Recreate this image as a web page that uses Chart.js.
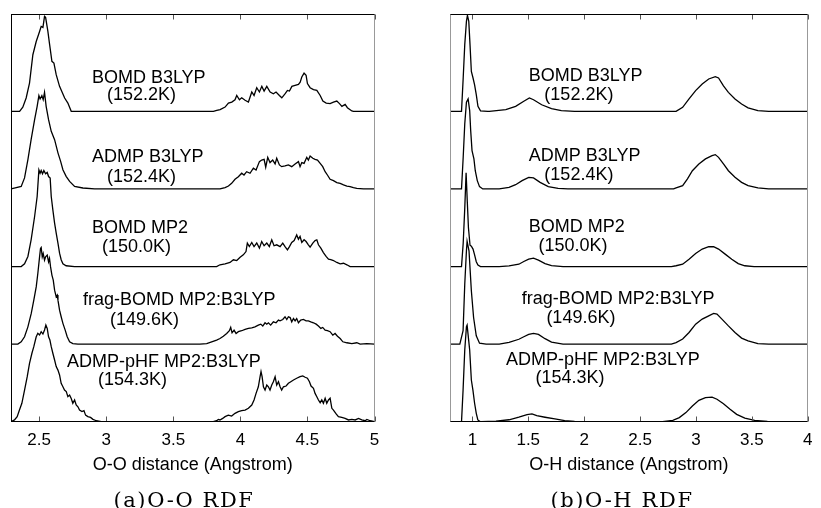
<!DOCTYPE html>
<html>
<head>
<meta charset="utf-8">
<script src="https://cdn.jsdelivr.net/npm/chart.js@4.4.0/dist/chart.umd.min.js"></script>
<style>
  body { margin: 0; background: #fff; }
  #wrap { position: relative; width: 821px; height: 508px; }
  canvas { position: absolute; top: 0; }
  #ooChart { left: 0; }
  #ohChart { left: 410px; }
  .caption { position: absolute; top: 488px; font-family: 'DejaVu Serif', serif; font-size: 21px; letter-spacing: 1.6px;
             line-height: 24px; white-space: nowrap; transform: translateX(-50%); color: #000; }
</style>
</head>
<body>
<div id="wrap">
  <canvas id="ooChart" width="410" height="508"></canvas>
  <canvas id="ohChart" width="411" height="508"></canvas>
  <div class="caption" style="left:184px">(a)O-O RDF</div>
  <div class="caption" style="left:622px">(b)O-H RDF</div>
</div>
<script>
// runs, top to bottom, and the vertical shift each curve gets
const runNames = ['BOMD B3LYP', 'ADMP B3LYP', 'BOMD MP2', 'frag-BOMD MP2:B3LYP', 'ADMP-pHF MP2:B3LYP'];
const runTemps = ['(152.2K)', '(152.4K)', '(150.0K)', '(149.6K)', '(154.3K)'];
const offsets = [16, 12, 8, 4, 0];

const ooTicks = [2.5, 3, 3.5, 4, 4.5, 5];
const ohTicks = [1, 1.5, 2, 2.5, 3, 3.5, 4];

// O-O g(r), [r, g]
const ooBomdB3lyp = [[2.29,0],[2.354,0],[2.378,0.22],[2.403,0.69],[2.428,1.46],[2.453,2.92],[2.478,3.6],[2.503,4.12],[2.515,4.38],[2.528,4.33],[2.54,4.9],[2.548,4.85],[2.565,4.12],[2.578,3.44],[2.595,2.58],[2.61,2.49],[2.627,1.89],[2.652,1.29],[2.69,0.69],[2.714,0.43],[2.739,0],
  [3.799,0],[3.824,0.05],[3.849,0.09],[3.886,0.22],[3.911,0.43],[3.936,0.48],[3.96,0.6],[3.973,0.82],[3.993,0.6],[4.01,0.7],[4.035,0.57],[4.06,0.48],[4.085,1.0],[4.102,0.82],[4.122,1.22],[4.142,1.0],[4.16,1.29],[4.177,1.05],[4.197,1.29],[4.222,1.0],[4.246,0.91],[4.266,1.0],[4.291,0.82],[4.309,0.7],[4.334,0.91],[4.351,1.08],[4.366,1.05],[4.384,1.29],[4.408,1.34],[4.433,1.39],[4.446,1.51],[4.458,1.77],[4.475,1.97],[4.49,1.86],[4.5,1.43],[4.52,1.22],[4.545,1.12],[4.57,1.08],[4.595,0.82],[4.615,0.53],[4.64,0.43],[4.669,0.4],[4.694,0.48],[4.719,0.53],[4.739,0.4],[4.757,0.26],[4.781,0.36],[4.798,0.19],[4.831,0.02],[4.843,0],[5.0,0]];
const ooAdmpB3lyp = [[2.29,0],[2.366,0.13],[2.391,0.57],[2.416,1.51],[2.44,2.54],[2.466,3.57],[2.485,4.26],[2.498,4.81],[2.507,4.64],[2.52,4.81],[2.53,4.6],[2.54,4.98],[2.552,4.26],[2.57,3.57],[2.59,2.97],[2.615,2.54],[2.64,1.86],[2.66,1.42],[2.677,0.99],[2.701,0.65],[2.727,0.39],[2.764,0.13],[2.826,0.05],[2.913,0],
  [3.848,0],[3.886,0.07],[3.911,0.15],[3.935,0.29],[3.96,0.5],[3.985,0.63],[4.01,0.81],[4.027,0.72],[4.047,0.89],[4.072,0.81],[4.097,1.07],[4.117,0.98],[4.142,1.41],[4.159,1.49],[4.177,1.53],[4.189,1.12],[4.204,1.63],[4.221,1.36],[4.241,1.49],[4.259,1.29],[4.271,1.58],[4.291,1.24],[4.308,1.15],[4.333,1.19],[4.358,1.24],[4.383,1.15],[4.408,1.29],[4.433,1.41],[4.445,1.15],[4.458,1.36],[4.475,1.32],[4.495,1.63],[4.507,1.49],[4.52,1.7],[4.54,1.58],[4.557,1.53],[4.575,1.49],[4.595,1.32],[4.614,1.15],[4.632,0.89],[4.649,0.72],[4.669,0.5],[4.694,0.43],[4.719,0.33],[4.744,0.29],[4.769,0.21],[4.794,0.15],[4.818,0.12],[4.843,0.07],[4.868,0.03],[4.918,0],[5.0,0]];
const ooBomdMp2 = [[2.29,0],[2.366,0],[2.391,0.14],[2.416,0.52],[2.44,1.38],[2.466,2.58],[2.485,3.61],[2.498,4.98],[2.507,4.81],[2.515,4.95],[2.525,4.78],[2.535,4.95],[2.548,4.78],[2.56,4.85],[2.57,4.64],[2.582,4.56],[2.59,3.61],[2.602,2.92],[2.615,2.24],[2.627,1.72],[2.64,1.21],[2.652,0.69],[2.664,0.35],[2.677,0.14],[2.701,0.04],[2.764,0],
  [3.823,0],[3.848,0.09],[3.886,0.14],[3.923,0.21],[3.948,0.35],[3.973,0.31],[3.998,0.48],[4.022,0.6],[4.042,0.77],[4.052,1.21],[4.067,1.03],[4.085,1.24],[4.102,1.03],[4.122,1.21],[4.142,0.95],[4.159,1.29],[4.177,1.07],[4.197,1.21],[4.216,1.03],[4.234,1.38],[4.251,1.07],[4.271,1.12],[4.296,1.03],[4.316,1.21],[4.333,1.03],[4.351,0.86],[4.366,1.03],[4.383,1.24],[4.401,1.34],[4.42,1.63],[4.433,1.41],[4.445,1.55],[4.458,1.24],[4.475,1.38],[4.49,1.29],[4.507,1.12],[4.52,1.0],[4.54,1.21],[4.557,1.34],[4.57,1.38],[4.582,1.12],[4.6,0.95],[4.619,0.72],[4.639,0.52],[4.657,0.38],[4.674,0.35],[4.694,0.31],[4.719,0.21],[4.744,0.14],[4.769,0.17],[4.794,0.09],[4.818,0],[5.0,0]];
const ooFragBomd = [[2.29,0],[2.341,0],[2.366,0.12],[2.391,0.38],[2.416,0.89],[2.441,1.58],[2.46,2.27],[2.478,2.95],[2.49,3.64],[2.503,4.5],[2.51,4.93],[2.515,4.98],[2.523,4.5],[2.53,4.67],[2.54,4.33],[2.548,4.5],[2.56,4.59],[2.57,4.24],[2.577,4.42],[2.585,3.98],[2.595,3.56],[2.605,3.3],[2.615,2.78],[2.627,2.44],[2.635,2.53],[2.64,2.27],[2.652,1.75],[2.664,1.41],[2.677,1.07],[2.694,0.72],[2.709,0.38],[2.727,0.12],[2.751,0.03],[2.789,0],
  [3.699,0],[3.749,0.03],[3.786,0.12],[3.823,0.21],[3.848,0.29],[3.873,0.41],[3.898,0.55],[3.918,0.69],[3.928,0.86],[3.938,0.58],[3.953,0.72],[3.968,0.55],[3.985,0.64],[4.01,0.69],[4.035,0.76],[4.06,0.81],[4.085,0.84],[4.109,0.89],[4.134,0.98],[4.152,1.03],[4.167,0.93],[4.184,1.1],[4.197,1.03],[4.209,1.1],[4.226,0.98],[4.246,1.15],[4.266,1.1],[4.284,1.24],[4.296,1.2],[4.316,1.27],[4.333,1.41],[4.346,1.27],[4.358,1.41],[4.371,1.37],[4.383,1.15],[4.396,1.32],[4.408,1.2],[4.42,1.32],[4.433,1.1],[4.45,1.24],[4.47,1.27],[4.49,1.2],[4.507,1.2],[4.525,1.15],[4.545,1.1],[4.565,1.03],[4.582,0.93],[4.6,0.81],[4.614,0.86],[4.632,0.72],[4.649,0.69],[4.669,0.64],[4.689,0.46],[4.706,0.55],[4.724,0.41],[4.744,0.29],[4.764,0.12],[4.794,0.07],[4.831,0.03],[4.868,0.07],[4.893,0],[4.943,0.03],[5.0,0]];
const ooAdmpPhf = [[2.29,0],[2.316,0.09],[2.336,0.26],[2.353,0.6],[2.371,0.95],[2.391,1.63],[2.411,2.32],[2.428,3.01],[2.446,3.53],[2.46,3.87],[2.478,4.38],[2.49,4.56],[2.503,4.47],[2.515,4.64],[2.528,4.52],[2.54,4.73],[2.55,4.98],[2.56,4.81],[2.57,4.38],[2.58,4.21],[2.59,3.87],[2.602,3.53],[2.615,3.18],[2.627,2.84],[2.64,2.66],[2.652,2.41],[2.664,1.98],[2.677,1.8],[2.689,1.63],[2.702,1.55],[2.714,1.29],[2.727,1.37],[2.739,1.2],[2.751,0.95],[2.764,1.12],[2.776,0.86],[2.789,0.77],[2.801,0.6],[2.819,0.52],[2.834,0.57],[2.846,0.34],[2.863,0.26],[2.883,0.22],[2.901,0.12],[2.926,0.05],[2.963,0],
  [3.798,0],[3.823,0.05],[3.836,0.12],[3.848,0.09],[3.868,0.17],[3.886,0.26],[3.91,0.34],[3.935,0.29],[3.96,0.43],[3.985,0.52],[4.01,0.57],[4.035,0.6],[4.06,0.69],[4.085,0.86],[4.102,1.12],[4.117,1.46],[4.134,1.8],[4.147,2.32],[4.154,2.58],[4.162,2.32],[4.172,1.8],[4.184,1.63],[4.197,1.89],[4.209,1.8],[4.221,1.63],[4.234,1.89],[4.246,2.06],[4.259,2.32],[4.271,1.89],[4.284,2.06],[4.296,1.8],[4.308,1.63],[4.321,1.8],[4.341,1.84],[4.358,1.98],[4.376,2.06],[4.396,2.15],[4.42,2.24],[4.445,2.32],[4.465,2.36],[4.483,2.29],[4.5,2.24],[4.515,2.06],[4.527,1.84],[4.545,1.72],[4.557,1.46],[4.57,1.29],[4.582,1.12],[4.595,0.98],[4.607,1.12],[4.619,0.95],[4.632,1.21],[4.644,0.95],[4.657,1.12],[4.669,1.21],[4.682,0.69],[4.694,0.6],[4.714,0.4],[4.731,0.26],[4.756,0.22],[4.781,0.17],[4.806,0.09],[4.831,0.12],[4.856,0.09],[4.881,0.17],[4.905,0.09],[4.93,0.05],[4.943,0.12],[4.968,0.05],[5.0,0]];

// O-H g(r)
const ohBomdB3lyp = [[0.8,0],[0.903,0],[0.918,1.72],[0.932,3.44],[0.947,4.64],[0.956,4.95],[0.968,4.64],[0.979,3.44],[0.991,2.06],[1.006,1.72],[1.02,1.37],[1.035,0.86],[1.05,0.26],[1.073,0.03],[1.137,0],
  [1.152,0],[1.299,0.09],[1.387,0.26],[1.46,0.52],[1.51,0.69],[1.547,0.6],[1.62,0.34],[1.708,0.14],[1.796,0.04],[1.914,0],
  [2.822,0],[2.881,0.21],[2.938,0.64],[2.997,1.07],[3.056,1.41],[3.114,1.67],[3.173,1.79],[3.202,1.72],[3.246,1.32],[3.29,0.98],[3.349,0.64],[3.408,0.38],[3.466,0.18],[3.554,0.04],[3.65,0],[4.0,0]];
const ohAdmpB3lyp = [[0.8,0],[0.903,0],[0.918,1.63],[0.932,3.35],[0.947,4.47],[0.962,4.64],[0.976,4.04],[0.985,3.01],[0.997,1.98],[1.014,1.55],[1.026,0.94],[1.044,0.43],[1.064,0.12],[1.093,0],
  [1.24,0],[1.328,0.08],[1.387,0.22],[1.445,0.43],[1.504,0.6],[1.547,0.57],[1.606,0.34],[1.679,0.12],[1.767,0.03],[1.855,0],
  [2.8,0],[2.822,0.05],[2.881,0.17],[2.924,0.52],[2.968,0.94],[3.026,1.29],[3.085,1.55],[3.144,1.72],[3.173,1.77],[3.202,1.63],[3.246,1.29],[3.29,0.94],[3.349,0.6],[3.408,0.34],[3.466,0.17],[3.554,0.05],[3.65,0],[4.0,0]];
const ohBomdMp2 = [[0.8,0],[0.903,0],[0.918,1.2],[0.932,3.0],[0.944,4.83],[0.955,3.3],[0.965,2.0],[0.979,1.1],[0.991,1.05],[1.006,0.9],[1.02,0.6],[1.035,0.25],[1.05,0.08],[1.073,0],
  [1.24,0],[1.328,0.03],[1.416,0.12],[1.46,0.26],[1.504,0.38],[1.547,0.43],[1.591,0.33],[1.65,0.15],[1.708,0.05],[1.811,0],
  [2.78,0],[2.822,0.04],[2.881,0.12],[2.938,0.38],[2.997,0.67],[3.056,0.9],[3.114,1.02],[3.158,1.02],[3.202,0.9],[3.261,0.64],[3.32,0.38],[3.378,0.15],[3.437,0.04],[3.52,0],[4.0,0]];
const ohFragBomd = [[0.8,0],[0.888,0],[0.917,0.69],[0.932,3.09],[0.947,4.81],[0.953,5.3],[0.97,4.81],[0.991,2.75],[1.011,1.37],[1.035,0.43],[1.064,0.05],[1.123,0],
  [1.24,0],[1.328,0.09],[1.416,0.25],[1.46,0.38],[1.504,0.5],[1.547,0.55],[1.591,0.5],[1.65,0.28],[1.708,0.1],[1.811,0],
  [2.78,0],[2.822,0.08],[2.881,0.26],[2.938,0.6],[2.997,1.03],[3.056,1.29],[3.114,1.46],[3.158,1.58],[3.188,1.55],[3.232,1.29],[3.29,0.94],[3.349,0.6],[3.408,0.31],[3.466,0.17],[3.554,0.03],[3.65,0],[4.0,0]];
const ohAdmpPhf = [[0.8,0],[0.903,0],[0.917,1.63],[0.932,3.7],[0.947,4.9],[0.953,4.98],[0.976,3.7],[0.991,2.15],[1.005,1.63],[1.02,0.95],[1.035,0.43],[1.049,0.09],[1.073,0],
  [1.211,0.03],[1.328,0.1],[1.416,0.23],[1.489,0.37],[1.533,0.4],[1.576,0.31],[1.65,0.23],[1.738,0.14],[1.826,0.06],[1.914,0.02],[2.0,0],
  [2.7,0],[2.793,0.07],[2.851,0.21],[2.91,0.47],[2.968,0.81],[3.026,1.1],[3.085,1.24],[3.144,1.27],[3.188,1.16],[3.246,0.93],[3.305,0.64],[3.364,0.38],[3.437,0.18],[3.525,0.07],[3.639,0.02],[3.75,0],[4.0,0]];

const ooCurves = [ooBomdB3lyp, ooAdmpB3lyp, ooBomdMp2, ooFragBomd, ooAdmpPhf];
const ohCurves = [ohBomdB3lyp, ohAdmpB3lyp, ohBomdMp2, ohFragBomd, ohAdmpPhf];

Chart.defaults.font.family = "'Liberation Sans', Arial, sans-serif";
Chart.defaults.color = '#000';

// run names written beside each curve, anchored in data units
const curveLabels = {
  id: 'curveLabels',
  afterDatasetsDraw(chart, args, opts) {
    const {ctx, scales: {x, y}} = chart;
    ctx.save();
    ctx.font = "18px 'Liberation Sans', Arial, sans-serif";
    ctx.fillStyle = '#000';
    ctx.textBaseline = 'middle';
    runNames.forEach((name, i) => {
      ctx.fillText(name, x.getPixelForValue(opts.names[i][0]), y.getPixelForValue(opts.names[i][1]));
      ctx.fillText(runTemps[i], x.getPixelForValue(opts.temps[i][0]), y.getPixelForValue(opts.temps[i][1]));
    });
    ctx.restore();
  }
};

// box round the plot with inward ticks on top and bottom
const frame = {
  id: 'frame',
  afterDraw(chart, args, opts) {
    const {ctx, chartArea: a, scales: {x}} = chart;
    const l = Math.round(a.left) + 0.5, r = Math.round(a.right) - 0.5;
    const t = Math.round(a.top) + 0.5, b = Math.round(a.bottom) - 0.5;
    ctx.save();
    ctx.lineWidth = 1;
    ctx.strokeStyle = '#555';
    x.ticks.forEach(tk => {
      const px = Math.round(x.getPixelForValue(tk.value)) + 0.5;
      ctx.beginPath();
      ctx.moveTo(px, t); ctx.lineTo(px, t + 5);
      ctx.moveTo(px, b); ctx.lineTo(px, b - 5);
      ctx.stroke();
    });
    const side = (c, x1, y1, x2, y2) => {
      ctx.strokeStyle = c;
      ctx.beginPath(); ctx.moveTo(x1, y1); ctx.lineTo(x2, y2); ctx.stroke();
    };
    side('#000', l - 0.5, t, r + 0.5, t);
    side('#000', l - 0.5, b, r + 0.5, b);
    side(opts.leftColor, l, t, l, b);
    side(opts.rightColor, r, t, r, b);
    ctx.restore();
  }
};

function makeChart(id, curves, ticks, xMin, xMax, title, pad, labels, sides) {
  return new Chart(document.getElementById(id), {
    type: 'line',
    data: {
      datasets: curves.map((pts, i) => ({
        label: runNames[i],
        data: pts.map(p => ({x: p[0], y: p[1] + offsets[i]})),
        borderColor: '#000',
        borderWidth: 1.3,
        pointRadius: 0,
        tension: 0,
        fill: false
      }))
    },
    options: {
      responsive: false,
      animation: false,
      events: [],
      layout: {padding: pad},
      plugins: {
        legend: {display: false},
        tooltip: {enabled: false},
        curveLabels: labels,
        frame: sides
      },
      scales: {
        x: {
          type: 'linear',
          min: xMin,
          max: xMax,
          afterBuildTicks: axis => { axis.ticks = ticks.map(v => ({value: v})); },
          afterFit: axis => { axis.height = 54; },
          grid: {display: false, drawTicks: false},
          border: {display: false},
          ticks: {padding: 8.5, font: {size: 17}, color: '#000', maxRotation: 0, autoSkip: false,
                  callback: v => String(v)},
          title: {display: true, text: title, font: {size: 18}, color: '#000', padding: 0}
        },
        y: {display: false, min: 0, max: 21.02}
      }
    },
    plugins: [curveLabels, frame]
  });
}

makeChart('ooChart', ooCurves, ooTicks, 2.29, 5.0, 'O-O distance (Angstrom)',
  {left: 11, top: 14, right: 35.5, bottom: 32.3},
  {names: [[2.893, 17.72], [2.893, 13.66], [2.893, 10.0], [2.826, 6.27], [2.707, 3.09]],
   temps: [[3.005, 16.84], [3.005, 12.63], [2.968, 8.99], [3.028, 5.24], [2.938, 2.15]]},
  {leftColor: '#000', rightColor: '#999'});

makeChart('ohChart', ohCurves, ohTicks, 0.8, 4.0, 'O-H distance (Angstrom)',
  {left: 40, top: 14, right: 7.7, bottom: 32.3},
  {names: [[1.504, 17.82], [1.504, 13.7], [1.504, 10.05], [1.442, 6.31], [1.301, 3.18]],
   temps: [[1.644, 16.84], [1.644, 12.72], [1.591, 9.07], [1.662, 5.33], [1.565, 2.25]]},
  {leftColor: '#999', rightColor: '#999'});
</script>
</body>
</html>
